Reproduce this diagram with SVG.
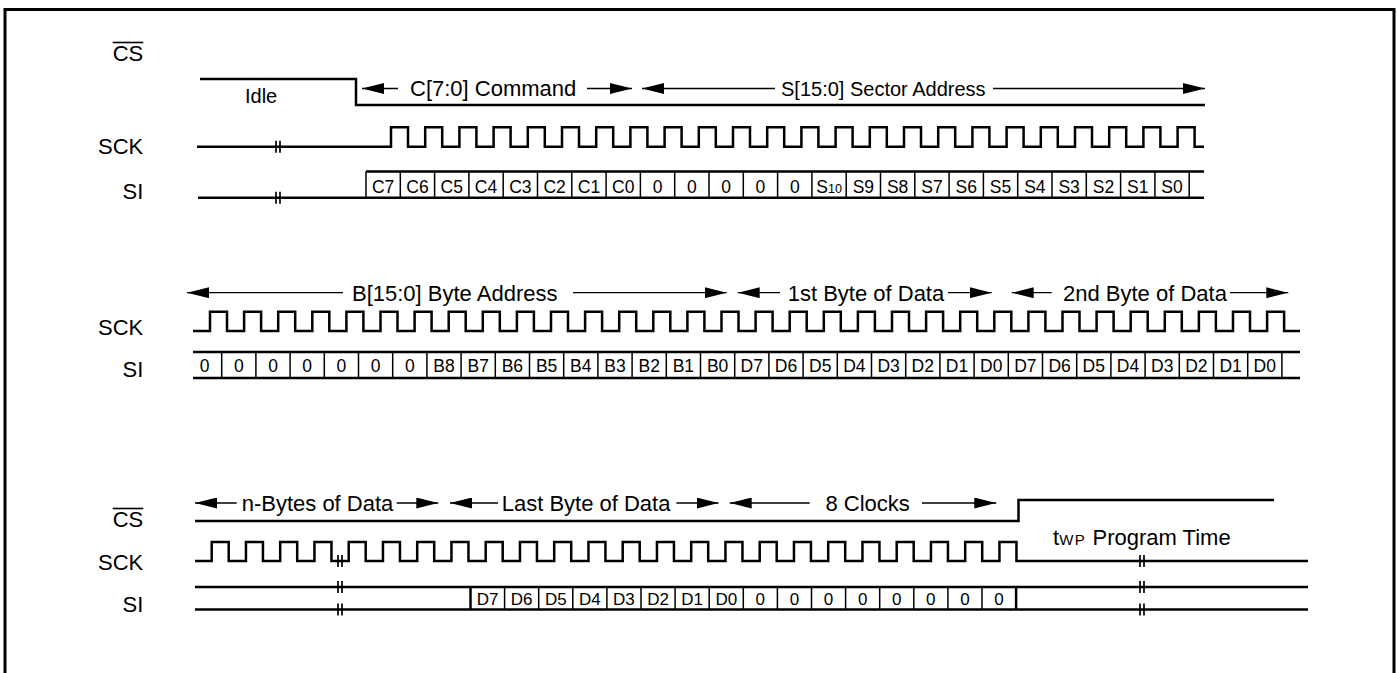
<svg xmlns="http://www.w3.org/2000/svg" width="1397" height="673" viewBox="0 0 1397 673">
<defs>
<style>
text{font-family:"Liberation Sans",Arial,Helvetica,sans-serif;fill:#000}
.lbl{font-size:22px;text-anchor:end}
.big{font-size:22px}
.cell{font-size:17.5px;text-anchor:middle}
.cb{font-size:17px;text-anchor:middle}
.sig{fill:none;stroke:#000;stroke-width:2.5;stroke-linejoin:miter}
.div{fill:none;stroke:#000;stroke-width:1.5}
.shaft{stroke:#000;stroke-width:1.3;marker-end:url(#ah)}
.ov{stroke:#000;stroke-width:1.6}
</style>
<marker id="ah" markerUnits="userSpaceOnUse" markerWidth="22" markerHeight="11" refX="22" refY="5.5" orient="auto"><path d="M0,0 L22,5.5 L0,11 Z" fill="#000"/></marker>
<g id="brk"><line x1="-2" y1="-6" x2="-2" y2="6" stroke="#000" stroke-width="1.7"/><line x1="2" y1="-6" x2="2" y2="6" stroke="#000" stroke-width="1.7"/></g>
</defs>
<rect width="1397" height="673" fill="#fff"/>
<path id="frame" d="M5,680 V9.5 H1394 V680" fill="none" stroke="#000" stroke-width="3"/>

<g id="labels">
<text class="lbl" x="143.3" y="61">CS</text><line class="ov" x1="112.7" y1="42.5" x2="143.3" y2="42.5"/>
<text class="lbl" x="143.3" y="154">SCK</text>
<text class="lbl" x="143.3" y="199">SI</text>
<text class="lbl" x="143.3" y="335">SCK</text>
<text class="lbl" x="143.3" y="377">SI</text>
<text class="lbl" x="143.3" y="527">CS</text><line class="ov" x1="112.7" y1="508.5" x2="143.3" y2="508.5"/>
<text class="lbl" x="143.3" y="570">SCK</text>
<text class="lbl" x="143.3" y="612">SI</text>
</g>

<g id="cs-top">
<path class="sig" d="M200,79 H356 V105 H1205"/>
<text x="245" y="103" style="font-size:20px">Idle</text>
</g>

<g id="sck-top">
<path class="sig" d="M197,146.7 H391
v-19.4h17v19.4h17.2 v-19.4h17v19.4h17.2 v-19.4h17v19.4h17.2 v-19.4h17v19.4h17.2 v-19.4h17v19.4h17.2
v-19.4h17v19.4h17.2 v-19.4h17v19.4h17.2 v-19.4h17v19.4h17.2 v-19.4h17v19.4h17.2 v-19.4h17v19.4h17.2
v-19.4h17v19.4h17.2 v-19.4h17v19.4h17.2 v-19.4h17v19.4h17.2 v-19.4h17v19.4h17.2 v-19.4h17v19.4h17.2
v-19.4h17v19.4h17.2 v-19.4h17v19.4h17.2 v-19.4h17v19.4h17.2 v-19.4h17v19.4h17.2 v-19.4h17v19.4h17.2
v-19.4h17v19.4h17.2 v-19.4h17v19.4h17.2 v-19.4h17v19.4h17.2
v-19.4h17v19.4H1204"/>
<use href="#brk" x="278" y="146.7"/>
</g>

<g id="si-top">
<path class="sig" d="M198,197.7 H1204 M366,171.5 H1204"/>
<path class="div" d="M366,171.5v26.2
m34.3,-26.2v26.2m34.3,-26.2v26.2m34.3,-26.2v26.2m34.3,-26.2v26.2m34.3,-26.2v26.2
m34.3,-26.2v26.2m34.3,-26.2v26.2m34.3,-26.2v26.2m34.3,-26.2v26.2m34.3,-26.2v26.2
m34.3,-26.2v26.2m34.3,-26.2v26.2m34.3,-26.2v26.2m34.3,-26.2v26.2m34.3,-26.2v26.2
m34.3,-26.2v26.2m34.3,-26.2v26.2m34.3,-26.2v26.2m34.3,-26.2v26.2m34.3,-26.2v26.2
m34.3,-26.2v26.2m34.3,-26.2v26.2m34.3,-26.2v26.2m34.3,-26.2v26.2"/>
<use href="#brk" x="278" y="197.7"/>
<text class="cell" x="383.15" y="192.5">C7</text>
<text class="cell" x="417.45" y="192.5">C6</text>
<text class="cell" x="451.75" y="192.5">C5</text>
<text class="cell" x="486.05" y="192.5">C4</text>
<text class="cell" x="520.35" y="192.5">C3</text>
<text class="cell" x="554.65" y="192.5">C2</text>
<text class="cell" x="588.95" y="192.5">C1</text>
<text class="cell" x="623.25" y="192.5">C0</text>
<text class="cell" x="657.55" y="192.5">0</text>
<text class="cell" x="691.85" y="192.5">0</text>
<text class="cell" x="726.15" y="192.5">0</text>
<text class="cell" x="760.45" y="192.5">0</text>
<text class="cell" x="794.75" y="192.5">0</text>
<text class="cell" x="829.05" y="192.5">S<tspan style="font-size:12.5px">10</tspan></text>
<text class="cell" x="863.35" y="192.5">S9</text>
<text class="cell" x="897.65" y="192.5">S8</text>
<text class="cell" x="931.95" y="192.5">S7</text>
<text class="cell" x="966.25" y="192.5">S6</text>
<text class="cell" x="1000.55" y="192.5">S5</text>
<text class="cell" x="1034.85" y="192.5">S4</text>
<text class="cell" x="1069.15" y="192.5">S3</text>
<text class="cell" x="1103.45" y="192.5">S2</text>
<text class="cell" x="1137.75" y="192.5">S1</text>
<text class="cell" x="1172.05" y="192.5">S0</text>
</g>

<g id="sck-mid">
<path class="sig" d="M193,331 H210
v-19.3h17v19.3h17.1 v-19.3h17v19.3h17.1 v-19.3h17v19.3h17.1 v-19.3h17v19.3h17.1 v-19.3h17v19.3h17.1
v-19.3h17v19.3h17.1 v-19.3h17v19.3h17.1 v-19.3h17v19.3h17.1 v-19.3h17v19.3h17.1 v-19.3h17v19.3h17.1
v-19.3h17v19.3h17.1 v-19.3h17v19.3h17.1 v-19.3h17v19.3h17.1 v-19.3h17v19.3h17.1 v-19.3h17v19.3h17.1
v-19.3h17v19.3h17.1 v-19.3h17v19.3h17.1 v-19.3h17v19.3h17.1 v-19.3h17v19.3h17.1 v-19.3h17v19.3h17.1
v-19.3h17v19.3h17.1 v-19.3h17v19.3h17.1 v-19.3h17v19.3h17.1 v-19.3h17v19.3h17.1 v-19.3h17v19.3h17.1
v-19.3h17v19.3h17.1 v-19.3h17v19.3h17.1 v-19.3h17v19.3h17.1 v-19.3h17v19.3h17.1 v-19.3h17v19.3h17.1
v-19.3h17v19.3h17.1
v-19.3h17v19.3H1300"/>
</g>

<g id="si-mid">
<path class="sig" d="M193,352 H1300 M193,378 H1300"/>
<path class="div" d="M221.7,352v26
m34.2,-26v26m34.2,-26v26m34.2,-26v26m34.2,-26v26m34.2,-26v26
m34.2,-26v26m34.2,-26v26m34.2,-26v26m34.2,-26v26m34.2,-26v26
m34.2,-26v26m34.2,-26v26m34.2,-26v26m34.2,-26v26m34.2,-26v26
m34.2,-26v26m34.2,-26v26m34.2,-26v26m34.2,-26v26m34.2,-26v26
m34.2,-26v26m34.2,-26v26m34.2,-26v26m34.2,-26v26m34.2,-26v26
m34.2,-26v26m34.2,-26v26m34.2,-26v26m34.2,-26v26m34.2,-26v26
m34.2,-26v26"/>
<text class="cell" x="204.6" y="372">0</text>
<text class="cell" x="238.8" y="372">0</text>
<text class="cell" x="273" y="372">0</text>
<text class="cell" x="307.2" y="372">0</text>
<text class="cell" x="341.4" y="372">0</text>
<text class="cell" x="375.6" y="372">0</text>
<text class="cell" x="409.8" y="372">0</text>
<text class="cell" x="444" y="372">B8</text>
<text class="cell" x="478.2" y="372">B7</text>
<text class="cell" x="512.4" y="372">B6</text>
<text class="cell" x="546.6" y="372">B5</text>
<text class="cell" x="580.8" y="372">B4</text>
<text class="cell" x="615" y="372">B3</text>
<text class="cell" x="649.2" y="372">B2</text>
<text class="cell" x="683.4" y="372">B1</text>
<text class="cell" x="717.6" y="372">B0</text>
<text class="cell" x="751.8" y="372">D7</text>
<text class="cell" x="786" y="372">D6</text>
<text class="cell" x="820.2" y="372">D5</text>
<text class="cell" x="854.4" y="372">D4</text>
<text class="cell" x="888.6" y="372">D3</text>
<text class="cell" x="922.8" y="372">D2</text>
<text class="cell" x="957" y="372">D1</text>
<text class="cell" x="991.2" y="372">D0</text>
<text class="cell" x="1025.4" y="372">D7</text>
<text class="cell" x="1059.6" y="372">D6</text>
<text class="cell" x="1093.8" y="372">D5</text>
<text class="cell" x="1128" y="372">D4</text>
<text class="cell" x="1162.2" y="372">D3</text>
<text class="cell" x="1196.4" y="372">D2</text>
<text class="cell" x="1230.6" y="372">D1</text>
<text class="cell" x="1264.8" y="372">D0</text>
</g>

<g id="cs-bot">
<path class="sig" d="M195,521 H1018.5 V500 H1274"/>
</g>

<g id="sck-bot">
<path class="sig" d="M195,561 H211.7
v-19h17v19h17.25 v-19h17v19h17.25 v-19h17v19h17.25 v-19h17v19h17.25 v-19h17v19h17.25
v-19h17v19h17.25 v-19h17v19h17.25 v-19h17v19h17.25 v-19h17v19h17.25 v-19h17v19h17.25
v-19h17v19h17.25 v-19h17v19h17.25 v-19h17v19h17.25 v-19h17v19h17.25 v-19h17v19h17.25
v-19h17v19h17.25 v-19h17v19h17.25 v-19h17v19h17.25 v-19h17v19h17.25 v-19h17v19h17.25
v-19h17v19h17.25 v-19h17v19h17.25 v-19h17v19h17.25
v-19h17v19H1308"/>
<use href="#brk" x="340" y="561"/>
<use href="#brk" x="1142" y="561"/>
<text x="1053" y="545" class="big">t<tspan style="font-size:15px;letter-spacing:1.5px">WP</tspan><tspan x="1092.5">Program Time</tspan></text>
</g>

<g id="si-bot">
<path class="sig" d="M195,587 H1308 M195,609.5 H1308"/>
<path class="div" d="M504.6,587v22.5
m34.1,-22.5v22.5m34.1,-22.5v22.5m34.1,-22.5v22.5m34.1,-22.5v22.5m34.1,-22.5v22.5
m34.1,-22.5v22.5m34.1,-22.5v22.5m34.1,-22.5v22.5m34.1,-22.5v22.5m34.1,-22.5v22.5
m34.1,-22.5v22.5m34.1,-22.5v22.5m34.1,-22.5v22.5m34.1,-22.5v22.5"/>
<path class="sig" d="M470.5,587v22.5 M1016.1,587v22.5"/>
<use href="#brk" x="340" y="587"/>
<use href="#brk" x="340" y="609.5"/>
<use href="#brk" x="1142" y="587"/>
<use href="#brk" x="1142" y="609.5"/>
<text class="cb" x="487.55" y="605">D7</text>
<text class="cb" x="521.65" y="605">D6</text>
<text class="cb" x="555.75" y="605">D5</text>
<text class="cb" x="589.85" y="605">D4</text>
<text class="cb" x="623.95" y="605">D3</text>
<text class="cb" x="658.05" y="605">D2</text>
<text class="cb" x="692.15" y="605">D1</text>
<text class="cb" x="726.25" y="605">D0</text>
<text class="cb" x="760.35" y="605">0</text>
<text class="cb" x="794.45" y="605">0</text>
<text class="cb" x="828.55" y="605">0</text>
<text class="cb" x="862.65" y="605">0</text>
<text class="cb" x="896.75" y="605">0</text>
<text class="cb" x="930.85" y="605">0</text>
<text class="cb" x="964.95" y="605">0</text>
<text class="cb" x="999.05" y="605">0</text>
</g>

<g id="connectors">
<line class="shaft" x1="398" y1="88.5" x2="362" y2="88.5"/>
<line class="shaft" x1="587" y1="88.5" x2="632" y2="88.5"/>
<line class="shaft" x1="775" y1="88.5" x2="642" y2="88.5"/>
<line class="shaft" x1="993" y1="88.5" x2="1205" y2="88.5"/>
<text class="big" x="410" y="96">C[7:0] Command</text>
<text x="781" y="95.5" style="font-size:20px">S[15:0] Sector Address</text>

<line class="shaft" x1="343" y1="292.7" x2="187" y2="292.7"/>
<line class="shaft" x1="573" y1="292.7" x2="726.7" y2="292.7"/>
<line class="shaft" x1="780" y1="292.7" x2="737.7" y2="292.7"/>
<line class="shaft" x1="948" y1="292.7" x2="991.7" y2="292.7"/>
<line class="shaft" x1="1051.7" y1="292.7" x2="1011.7" y2="292.7"/>
<line class="shaft" x1="1230" y1="292.7" x2="1288.3" y2="292.7"/>
<text class="big" x="352" y="300.5">B[15:0] Byte Address</text>
<text class="big" x="787.7" y="300.5">1st Byte of Data</text>
<text class="big" x="1063" y="300.5">2nd Byte of Data</text>

<line class="shaft" x1="236.7" y1="503" x2="195" y2="503"/>
<line class="shaft" x1="396.7" y1="503" x2="438.3" y2="503"/>
<line class="shaft" x1="498" y1="503" x2="450" y2="503"/>
<line class="shaft" x1="676.4" y1="503" x2="718.5" y2="503"/>
<line class="shaft" x1="809.7" y1="503" x2="729.7" y2="503"/>
<line class="shaft" x1="922" y1="503" x2="996.3" y2="503"/>
<text class="big" x="241.7" y="511">n-Bytes of Data</text>
<text class="big" x="501.7" y="511">Last Byte of Data</text>
<text class="big" x="825.5" y="511">8 Clocks</text>
</g>
</svg>
